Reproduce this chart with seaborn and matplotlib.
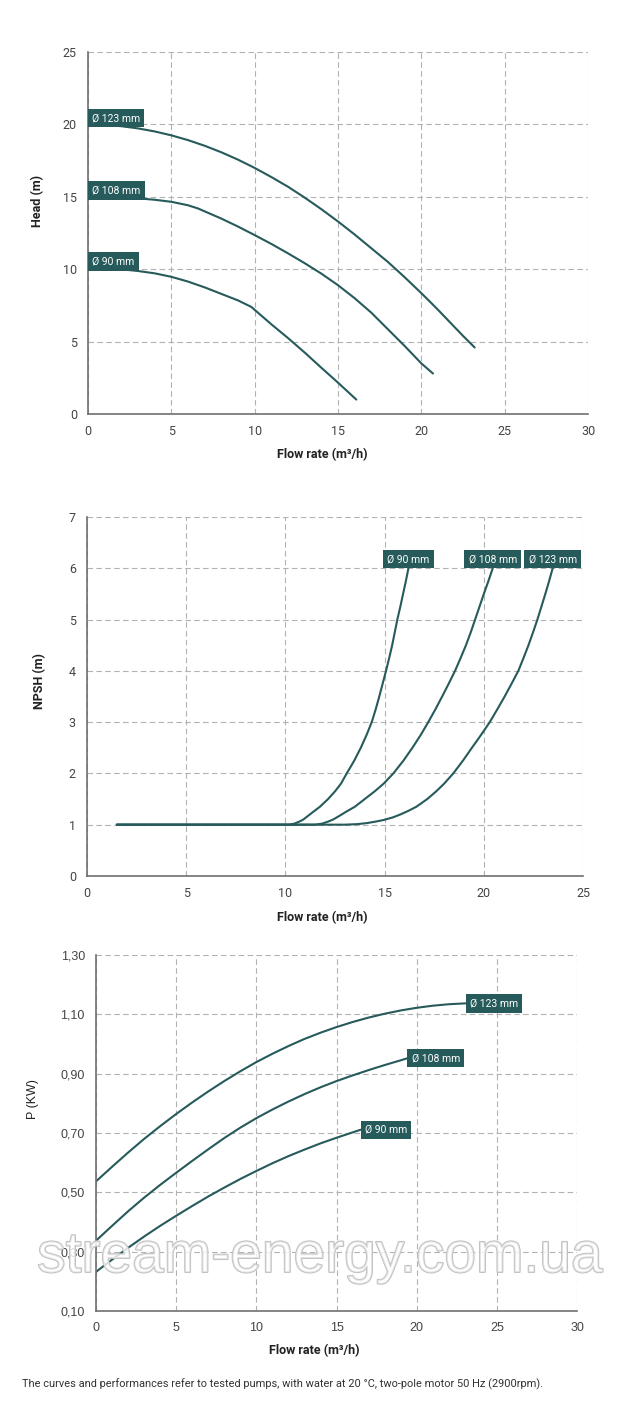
import pandas as pd
import seaborn as sns
import matplotlib.pyplot as plt
import matplotlib.patheffects as pe

TEAL = "#265a5b"
GRID = "#b2b2b2"
AXIS = "#707070"
TICK_TXT = "#444444"

# ---- Head curves (flow m3/h -> head m)
head_q_123 = [0, 1, 2, 3, 4, 5, 6, 7, 8, 9, 10, 11, 12, 13, 14, 15, 16, 17, 18, 19, 20, 20.5,
              21, 21.5, 22, 22.5, 23.2]
head_h_123 = [20.0, 19.97, 19.88, 19.73, 19.52, 19.25, 18.92, 18.53, 18.08, 17.57, 17.0, 16.37,
              15.7, 14.95, 14.15, 13.3, 12.4, 11.45, 10.5, 9.45, 8.35, 7.78, 7.2, 6.6, 6.0, 5.4, 4.6]
head_q_108 = [0, 1, 2, 3, 4, 5, 6, 6.6, 7, 8, 9, 10, 11, 12, 13, 14, 15, 16, 17, 18, 19, 20, 20.7]
head_h_108 = [15.0, 15.0, 14.97, 14.9, 14.8, 14.66, 14.42, 14.2, 14.0, 13.5, 12.95, 12.36, 11.75,
              11.1, 10.42, 9.7, 8.9, 8.0, 7.0, 5.85, 4.7, 3.5, 2.8]
head_q_90 = [0, 1, 2, 3, 4, 5, 6, 7, 8, 9, 9.8, 10, 11, 12, 13, 14, 15, 16.1]
head_h_90 = [10.1, 10.08, 10.0, 9.88, 9.72, 9.48, 9.15, 8.75, 8.3, 7.85, 7.4, 7.2, 6.2, 5.25,
             4.25, 3.2, 2.17, 1.0]

# ---- NPSH curves
npsh_q_90 = [1.5, 10.2, 10.45, 10.7, 10.9, 11.1, 11.4, 11.74, 12.15, 12.5, 12.8, 13.09, 13.47,
             13.8, 14.09, 14.35, 14.55, 14.73, 14.9, 15.07, 15.23, 15.38, 15.51, 15.64, 15.79,
             15.93, 16.07, 16.2]
npsh_v_90 = [1.0, 1.0, 1.02, 1.06, 1.1, 1.16, 1.25, 1.35, 1.5, 1.65, 1.8, 2.0, 2.25, 2.5, 2.75,
             3.0, 3.25, 3.5, 3.75, 4.0, 4.25, 4.5, 4.75, 5.0, 5.25, 5.5, 5.75, 6.0]
npsh_q_108 = [1.5, 11.5, 11.85, 12.15, 12.4, 12.67, 13.05, 13.5, 14.0, 14.5, 14.95, 15.44, 15.95,
              16.4, 16.82, 17.2, 17.56, 17.9, 18.23, 18.55, 18.83, 19.1, 19.34, 19.56, 19.78,
              20.0, 20.23, 20.45]
npsh_v_108 = [1.0, 1.0, 1.02, 1.06, 1.1, 1.16, 1.25, 1.35, 1.5, 1.65, 1.8, 2.0, 2.25, 2.5, 2.75,
              3.0, 3.25, 3.5, 3.75, 4.0, 4.25, 4.5, 4.75, 5.0, 5.25, 5.5, 5.75, 6.0]
npsh_q_123 = [1.5, 13.0, 13.6, 14.1, 14.55, 14.94, 15.4, 15.8, 16.2, 16.6, 17.15, 17.6, 18.0,
              18.46, 18.95, 19.4, 19.86, 20.3, 20.68, 21.05, 21.4, 21.74, 22.0, 22.25, 22.48,
              22.7, 22.9, 23.1, 23.29, 23.47]
npsh_v_123 = [1.0, 1.0, 1.01, 1.03, 1.06, 1.09, 1.14, 1.2, 1.27, 1.35, 1.5, 1.65, 1.8, 2.0, 2.25,
              2.5, 2.75, 3.0, 3.25, 3.5, 3.75, 4.0, 4.25, 4.5, 4.75, 5.0, 5.25, 5.5, 5.75, 6.0]

# ---- Power curves
pow_q_123 = [0, 1, 2, 3, 4, 5, 6, 7, 8, 9, 10, 11, 12, 13, 14, 15, 16, 17, 18, 19, 20, 21, 22, 23.05]
pow_p_123 = [0.537, 0.586, 0.634, 0.680, 0.723, 0.764, 0.803, 0.840, 0.875, 0.908, 0.939, 0.967,
             0.993, 1.017, 1.038, 1.057, 1.074, 1.089, 1.102, 1.113, 1.122, 1.129, 1.134, 1.137]
pow_q_108 = [0, 1, 2, 3, 4, 5, 6, 7, 8, 9, 10, 11, 12, 13, 14, 15, 16, 17, 18, 19, 19.42]
pow_p_108 = [0.337, 0.387, 0.436, 0.482, 0.525, 0.566, 0.606, 0.645, 0.683, 0.718, 0.750, 0.779,
             0.806, 0.831, 0.854, 0.875, 0.894, 0.912, 0.929, 0.945, 0.952]
pow_q_90 = [0, 1, 2, 3, 4, 5, 6, 7, 8, 9, 10, 11, 12, 13, 14, 15, 16, 16.5]
pow_p_90 = [0.232, 0.273, 0.313, 0.351, 0.387, 0.421, 0.454, 0.486, 0.516, 0.545, 0.572, 0.598,
            0.622, 0.644, 0.665, 0.684, 0.702, 0.711]

labels = ["Ø 123 mm", "Ø 108 mm", "Ø 90 mm"]
pow_ticks = [0.10, 0.30, 0.50, 0.70, 0.90, 1.10, 1.30]
pow_tick_labels = ["0,10", "0,30", "0,50", "0,70", "0,90", "1,10", "1,30"]
note = "The curves and performances refer to tested pumps, with water at 20 °C, two-pole motor 50 Hz (2900rpm)."
watermark = "stream-energy.com.ua"


def to_long(series, ycol):
    frames = []
    for name, q, v in series:
        frames.append(pd.DataFrame({"flow": q, ycol: v, "d": name}))
    return pd.concat(frames, ignore_index=True)


def draw(ax, df, ycol):
    sns.lineplot(data=df, x="flow", y=ycol, hue="d", palette=[TEAL] * 3, legend=False,
                 sort=False, estimator=None, linewidth=1.5, ax=ax)


def tag(ax, text, xy, offset, ha):
    ax.annotate(text, xy=xy, xytext=offset, textcoords="offset points", ha=ha, va="center",
                fontsize=7.5, color="white", annotation_clip=False, zorder=5,
                bbox=dict(boxstyle="square,pad=0.4", fc=TEAL, ec="none"))


def style(ax, xmax, xstep, ylim, yticks, tick_font="Roboto"):
    ax.set_xlim(0, xmax)
    ax.set_ylim(*ylim)
    ax.set_xticks(range(0, xmax + 1, xstep))
    ax.set_yticks(yticks)
    ax.set_axisbelow(True)
    ax.grid(True, color=GRID, linestyle=(0, (5, 3)), linewidth=0.8)
    for s in ["top", "right"]:
        ax.spines[s].set_visible(False)
    for s in ["left", "bottom"]:
        ax.spines[s].set_color(AXIS)
        ax.spines[s].set_linewidth(1.2)
    ax.tick_params(length=3, width=1, color=AXIS, labelsize=9, labelcolor=TICK_TXT, pad=5)
    for t in ax.get_xticklabels() + ax.get_yticklabels():
        t.set_family(tick_font)


sns.set_theme(style="white")
plt.rcParams["font.family"] = ["Roboto", "DejaVu Sans"]

fig = plt.figure(figsize=(6.4, 14.19), dpi=100)

# ---------------- Head
ax1 = fig.add_axes([0.1375, 0.7082, 0.78125, 0.2551])
head = [(labels[0], head_q_123, head_h_123), (labels[1], head_q_108, head_h_108),
        (labels[2], head_q_90, head_h_90)]
draw(ax1, to_long(head, "head"), "head")
style(ax1, 30, 5, (0, 25), range(0, 26, 5))
for name, q, v in head:
    tag(ax1, name, (q[0], v[0]), (3, 4.5), "left")
ax1.set_xlabel("Flow rate (m³/h)", fontsize=9, weight="bold", color="#222222")
ax1.set_ylabel("Head (m)", fontsize=9, weight="bold", color="#222222")
ax1.xaxis.set_label_coords(0.468, -0.113)
ax1.yaxis.set_label_coords(-0.1, 0.588)

# ---------------- NPSH
ax2 = fig.add_axes([0.136, 0.3827, 0.775, 0.2530])
npsh = [(labels[0], npsh_q_123, npsh_v_123), (labels[1], npsh_q_108, npsh_v_108),
        (labels[2], npsh_q_90, npsh_v_90)]
draw(ax2, to_long(npsh, "npsh"), "npsh")
style(ax2, 25, 5, (0, 7), range(0, 8))
for name, q, v in npsh:
    tag(ax2, name, (q[-1], v[-1]), (0, 6.5), "center")
ax2.set_xlabel("Flow rate (m³/h)", fontsize=9, weight="bold", color="#222222")
ax2.set_ylabel("NPSH (m)", fontsize=9, weight="bold", color="#222222")
ax2.xaxis.set_label_coords(0.474, -0.117)
ax2.yaxis.set_label_coords(-0.095, 0.543)

# ---------------- Power
ax3 = fig.add_axes([0.15, 0.0761, 0.7516, 0.2509])
power = [(labels[0], pow_q_123, pow_p_123), (labels[1], pow_q_108, pow_p_108),
         (labels[2], pow_q_90, pow_p_90)]
draw(ax3, to_long(power, "kw"), "kw")
style(ax3, 30, 5, (0.10, 1.30), pow_ticks, tick_font="Liberation Sans")
ax3.set_yticklabels(pow_tick_labels, family="Liberation Sans")
for name, q, v in power:
    tag(ax3, name, (q[-1], v[-1]), (3, 0), "left")
ax3.set_xlabel("Flow rate (m³/h)", fontsize=9, weight="bold", color="#222222")
ax3.set_ylabel("P (KW)", fontsize=9, family="Liberation Sans", color="#222222")
ax3.xaxis.set_label_coords(0.454, -0.110)
ax3.yaxis.set_label_coords(-0.131, 0.596)

for ax in (ax1, ax2, ax3):
    ax.xaxis.label.set_va("center")
    ax.yaxis.label.set_va("center")

# watermark sits over the power chart, as in the source image
fig.text(0.5, 1 - 1272 / 1419, watermark, ha="center", va="baseline", fontsize=41,
         family="Liberation Sans", color=(1, 1, 1, 0.55), zorder=10,
         path_effects=[pe.withStroke(linewidth=1.4, foreground="#c2c2c2")])

fig.text(0.034, 1 - 1384 / 1419, note, ha="left", va="center", fontsize=7.9,
         color="#333333")

fig.savefig("out.png", dpi=100)
